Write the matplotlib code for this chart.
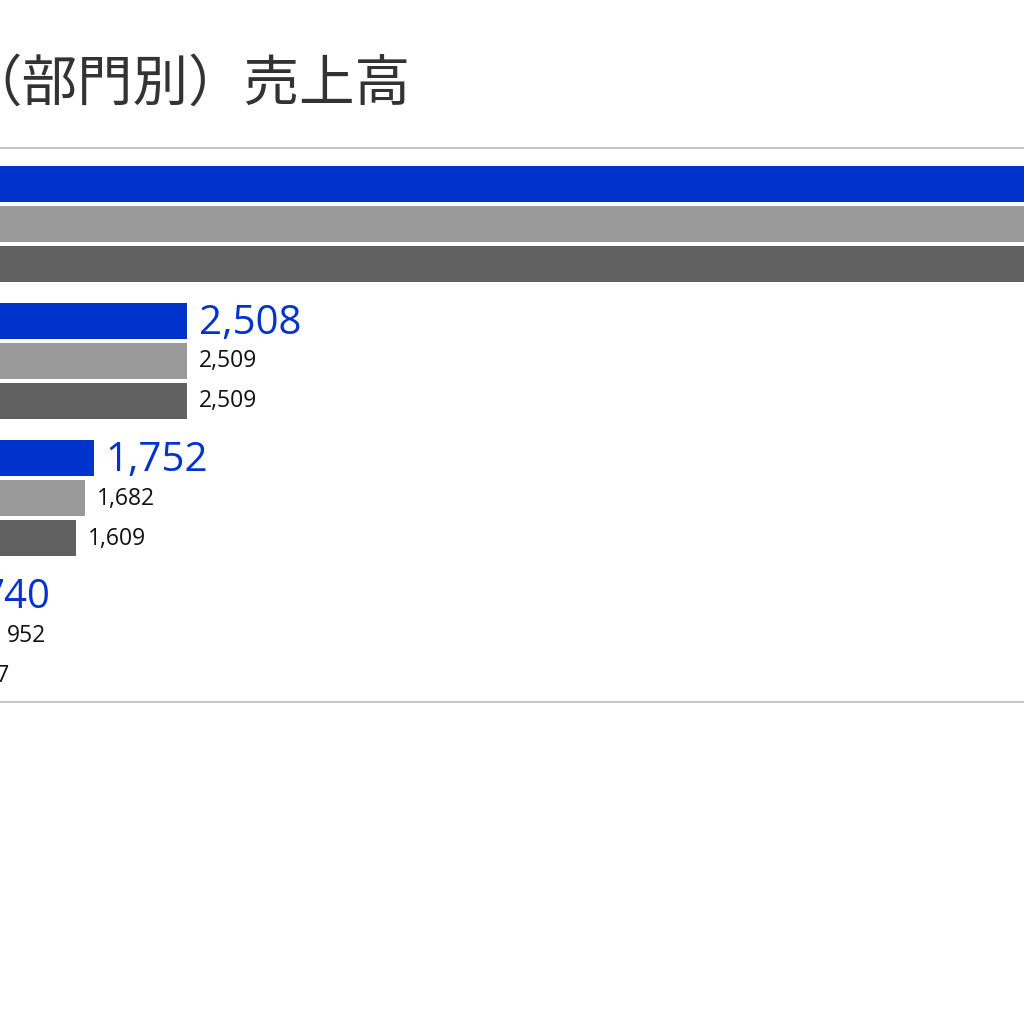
import matplotlib
matplotlib.use("Agg")
import matplotlib.pyplot as plt

plt.rcParams['font.family'] = ['Noto Sans CJK JP', 'DejaVu Sans']

groups = ["A", "B", "C", "D"]
current = [10000, 2508, 1752, 740]
prev1 = [9800, 2509, 1682, 952]
prev2 = [9700, 2509, 1609, 657]
colors = ["#0033CC", "#999999", "#606060"]

fig = plt.figure(figsize=(10.24, 10.24), dpi=100)
ax = fig.add_axes([-121.5/1024, 1-702/1024, 1230/1024, 554/1024])
ax.set_xlim(0, 10000)
ax.set_ylim(702, 148)

series = [current, prev1, prev2]
for g in range(len(groups)):
    for j, s in enumerate(series):
        y = 223.5 + 137*g + 40*(j-1)
        v = s[g]
        ax.barh(y, v, height=36, color=colors[j])
        if j == 0:
            ax.text(v + 95, y + 3, f"{v:,}", va='center', ha='left', fontsize=29,
                    color="#0033CC", family=['Open Sans', 'DejaVu Sans'])
        else:
            ax.text(v + 95, y + 1, f"{v:,}", va='center', ha='left', fontsize=16.5,
                    color="#111111", family=['Open Sans', 'DejaVu Sans'])

for sp in ["left", "right"]:
    ax.spines[sp].set_visible(False)
for sp in ["top", "bottom"]:
    ax.spines[sp].set_color("#BBBBBB")
    ax.spines[sp].set_linewidth(1.2)
ax.set_xticks([]); ax.set_yticks([])

fig.text(410/1024, 1-85/1024, "（部門別）売上高", ha='right', va='center', fontsize=40, color="#333333")
fig.savefig("out.png", dpi=100)
